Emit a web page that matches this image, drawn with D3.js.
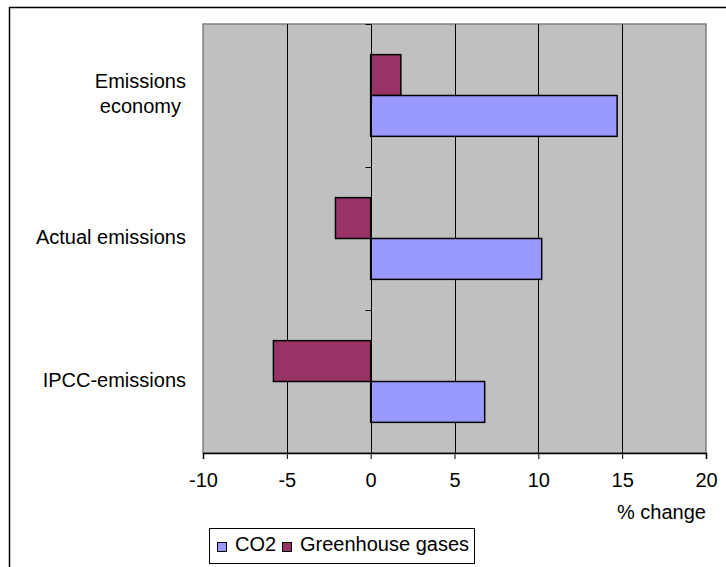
<!DOCTYPE html>
<html>
<head>
<meta charset="utf-8">
<script src="https://cdn.jsdelivr.net/npm/d3@7"></script>
<style>
  html, body { margin: 0; padding: 0; background: #fff; }
  svg { display: block; font-family: Arial, "Liberation Sans", sans-serif; }
</style>
</head>
<body>
<svg id="chart" width="726" height="567"></svg>
<script>
// Categories, top to bottom; each label may span several lines
const categories = ["Emissions economy", "Actual emissions", "IPCC-emissions"];
const categoryLines = [["Emissions", "economy"], ["Actual emissions"], ["IPCC-emissions"]];
// Series drawn inside each category band, top to bottom
const seriesNames = ["Greenhouse gases", "CO2"];
const ghgValues = [1.8, -2.1, -5.8];
const co2Values = [14.7, 10.2, 6.8];
const xTicks = [-10, -5, 0, 5, 10, 15, 20];
const legendOrder = ["CO2", "Greenhouse gases"];
const colors = { "CO2": "#9999FF", "Greenhouse gases": "#993366" };
const axisTitle = "% change";

const svg = d3.select("#chart");
const plot = { left: 203, right: 706, top: 24, bottom: 453 };
const fontSize = 20;

// Outer chart frame
svg.append("rect")
  .attr("x", 9.5).attr("y", 7.5)
  .attr("width", 760).attr("height", 600)
  .attr("fill", "#fff").attr("stroke", "#000").attr("stroke-width", 1.5);

const x = d3.scaleLinear().domain([-10, 20]).range([plot.left, plot.right]);
const y = d3.scaleBand().domain(categories).range([plot.top, plot.bottom]).padding(0);
const ySeries = d3.scaleBand().domain(seriesNames).range([0, y.bandwidth()])
  .paddingInner(0).paddingOuter(0.75);

// Plot area
svg.append("rect")
  .attr("x", plot.left).attr("y", plot.top)
  .attr("width", plot.right - plot.left).attr("height", plot.bottom - plot.top)
  .attr("fill", "#C0C0C0").attr("stroke", "#808080").attr("stroke-width", 1.5);

// Vertical gridlines
svg.append("g").selectAll("line")
  .data(xTicks.filter(t => t > -10 && t < 20))
  .join("line")
  .attr("x1", d => Math.round(x(d)) + 0.5).attr("x2", d => Math.round(x(d)) + 0.5)
  .attr("y1", plot.top).attr("y2", plot.bottom)
  .attr("stroke", "#000").attr("stroke-width", 1);

// Bars
const rows = categories.map((c, i) => ({
  category: c,
  values: [
    { series: "Greenhouse gases", value: ghgValues[i] },
    { series: "CO2", value: co2Values[i] }
  ]
}));

const groups = svg.append("g").selectAll("g")
  .data(rows).join("g")
  .attr("transform", d => `translate(0,${y(d.category)})`);

groups.selectAll("rect")
  .data(d => d.values).join("rect")
  .attr("x", d => x(Math.min(0, d.value)))
  .attr("width", d => Math.abs(x(d.value) - x(0)))
  .attr("y", d => ySeries(d.series))
  .attr("height", ySeries.bandwidth())
  .attr("fill", d => colors[d.series])
  .attr("stroke", "#000").attr("stroke-width", 1.5);

// Category axis at zero with tick marks on band boundaries
const x0 = Math.round(x(0)) + 0.5;
svg.append("line")
  .attr("x1", x0).attr("x2", x0).attr("y1", plot.top).attr("y2", plot.bottom)
  .attr("stroke", "#000").attr("stroke-width", 1);
const bounds = categories.map(c => y(c)).concat([plot.bottom]);
svg.append("g").selectAll("line")
  .data(bounds).join("line")
  .attr("x1", x0 - 6).attr("x2", x0)
  .attr("y1", d => Math.round(d) + 0.5).attr("y2", d => Math.round(d) + 0.5)
  .attr("stroke", "#000").attr("stroke-width", 1);

// Value axis along the bottom (plain hyphen for negatives)
const xAxis = d3.axisBottom(x).tickValues(xTicks).tickSize(6).tickPadding(10)
  .tickFormat(d => String(d));
const gx = svg.append("g")
  .attr("transform", `translate(0,${plot.bottom})`)
  .call(xAxis);
gx.select(".domain").attr("stroke", "#000").attr("stroke-width", 1.5);
gx.selectAll(".tick line").attr("stroke", "#000");
gx.selectAll(".tick text")
  .attr("font-size", fontSize).attr("font-family", "Arial, 'Liberation Sans', sans-serif")
  .attr("fill", "#000").attr("dy", "0.9em");

svg.append("text")
  .attr("x", plot.right).attr("y", 519)
  .attr("text-anchor", "end")
  .attr("font-size", fontSize).attr("fill", "#000")
  .text(axisTitle);

// Category labels: right-aligned block, lines centred inside it
const labelRight = 186;
const lineHeight = 25;
categories.forEach((c, i) => {
  const lines = categoryLines[i];
  const cy = y(c) + y.bandwidth() / 2;
  const g = svg.append("g");
  const texts = lines.map((ln, j) => g.append("text")
    .attr("font-size", fontSize).attr("fill", "#000")
    .attr("y", cy + (j - (lines.length - 1) / 2) * lineHeight + 5)
    .text(ln));
  const widths = texts.map(t => t.node().getComputedTextLength());
  const maxW = d3.max(widths);
  const center = labelRight - maxW / 2;
  texts.forEach(t => t.attr("x", center).attr("text-anchor", "middle"));
});

// Legend
const legend = svg.append("g");
legend.append("rect")
  .attr("x", 209.5).attr("y", 528.5).attr("width", 265).attr("height", 35)
  .attr("fill", "#fff").attr("stroke", "#000").attr("stroke-width", 1);
const legendX = [217, 282];
legendOrder.forEach((s, i) => {
  legend.append("rect")
    .attr("x", legendX[i] + 0.5).attr("y", 542.5).attr("width", 9).attr("height", 9)
    .attr("fill", colors[s]).attr("stroke", "#000").attr("stroke-width", 1);
  legend.append("text")
    .attr("x", legendX[i] + 18).attr("y", 551)
    .attr("font-size", fontSize).attr("fill", "#000")
    .text(s);
});
</script>
</body>
</html>
